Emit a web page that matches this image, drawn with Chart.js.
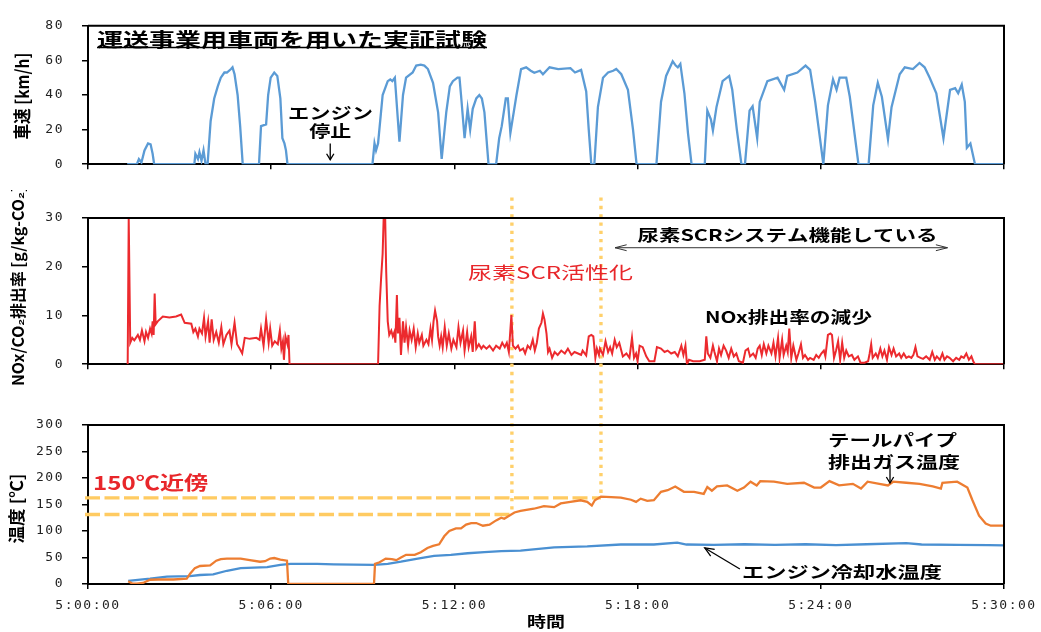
<!DOCTYPE html>
<html><head><meta charset="utf-8">
<script src="https://cdn.jsdelivr.net/npm/chart.js@4.4.1/dist/chart.umd.min.js"></script>
<style>
html,body{margin:0;padding:0;background:#fff;}
#wrap{position:relative;width:1041px;height:632px;overflow:hidden;background:#fff;}
canvas{position:absolute;left:0;}
</style></head><body>
<div id="wrap">
<canvas id="cA" width="1041" height="190" style="top:0px"></canvas>
<canvas id="cB" width="1041" height="200" style="top:190px"></canvas>
<canvas id="cC" width="1041" height="242" style="top:390px"></canvas>
</div>
<script>
// ---- tick labels ----
const xTickLabels = ['5:00:00','5:06:00','5:12:00','5:18:00','5:24:00','5:30:00'];
const xStep = 360, xMax = 1800;       // seconds from 5:00:00
const speedMax = 80, speedStep = 20;
const noxMax = 30, noxStep = 10;
const tempMax = 300, tempStep = 50;

// ---- vehicle speed [km/h] ----
const speedTime = [77,96,100,105,111,118,123,127,130,209,211,216,219,223,227,231,235,241,248,255,261,268,273,281,284,288,294,299,304,
 336,340,350,354,359,366,372,378,382,386,389,392,559,563,566,570,579,589,594,598,603,612,619,625,638,645,654,661,668,678,688,695,704,711,717,726,730,733,740,746,751,756,763,769,774,779,787,
 802,808,813,821,825,830,842,851,861,870,877,888,894,907,924,948,957,969,979,984,989,995,1002,1012,1022,1032,1038,1048,1061,1071,1078,
 1117,1126,1136,1149,1155,1159,1164,1172,1179,1186,1212,1217,1224,1228,1235,1247,1260,1266,1275,1284,1291,1300,1306,1315,1320,1335,1355,1368,1374,1394,1410,1419,1429,1445,
 1454,1464,1471,1477,1490,1497,1514,1534,1543,1552,1560,1572,1579,1595,1605,1621,1634,1644,1654,1667,1681,1694,1704,1710,1717,1723,1727,1734,1743,1800];
const speedVals = [0,0,3,1,8,12,11.5,6,0,0,6,3,7,2,8,0,0,25,38,45,50,53,53,55,56,52,40,22,0,
 0,22,23,40,50,53,51,38,15,12,8,0,0,12,8,12,40,48,49,48,50,13,40,50,53,57,57.5,57,55,47,30,3,30,45,48,50,50,40,15,32,20,32,38,40,38,30,0,
 0,15,22,38,38,18,40,55,56,54,52.8,54,52,56,55,55.5,53,54.5,42,20,0,0,33,50,53,54,55,52,43,20,0,
 0,36,51,59.5,57,56,58,41,18,0,0,31,26,19.5,33,48,51,43,20,0,0,31,33.5,15,36,48,50,43,51,53,57,54.5,36,0,
 34,49,43,50,50,39,0,0,34,47,39,14.5,33,52,56,55,58.5,56,50,41,15,43,44,41,46,36,9.5,12,0,0];

// ---- NOx/CO2 emission rate [g/kg-CO2] ----
const noxTime = [78,80,83,87,91,98,102,106,111,114,118,122,125,127,129,131,133,137,147,160,173,183,190,203,207,211,216,219,224,228,231,236,239,243,247,252,257,262,266,272,278,282,288,293,298,303,308,318,331,337,340,345,350,355,358,362,367,373,377,380,383,385,388,392,394,396,
 570,573,576,579,581,584,586,589,592,596,599,602,604,607,609,612,615,619,622,625,629,632,636,640,644,648,651,656,659,665,669,673,676,679,682,686,688,691,694,697,701,705,709,714,718,724,728,732,737,740,745,748,753,756,760,763,768,773,777,783,789,796,802,809,814,819,823,827,832,835,840,845,849,855,859,864,869,874,878,882,886,891,894,897,901,904,907,912,917,923,930,937,943,950,956,963,969,972,979,984,
 989,993,997,1000,1004,1006,1012,1017,1022,1026,1030,1035,1039,1044,1051,1058,1064,1069,1073,1077,1080,1084,1090,1097,1103,1113,1118,1126,1133,1139,1146,1153,1159,1166,1170,1174,1177,1181,1189,1202,1212,1215,1218,1223,1228,1231,1236,1240,1244,1249,1254,1259,1264,1269,1274,1279,1287,1292,1297,1301,1307,1312,1316,1320,1324,1328,1333,1337,1343,1347,1351,1356,1359,1364,1367,1372,1375,1378,
 1382,1386,1392,1396,1401,1405,1409,1415,1419,1426,1431,1436,1441,1446,1449,1454,1459,1462,1466,1470,1474,1478,1482,1486,1490,1495,1501,1506,1513,1518,1526,1533,1536,1539,1542,1548,1552,1557,1561,1565,1570,1574,1579,1583,1588,1594,1598,1603,1608,1613,1618,1622,1626,1630,1636,1641,1647,1654,1659,1664,1668,1674,1679,1683,1688,1693,1700,1706,1712,1716,1721,1726,1731,1736,1740,1743,1800];
const noxVals = [0,30,4.4,5.4,4.9,6,5,6.9,4.7,6.6,5.4,7.3,6.3,8.8,6,14.5,8.2,8.8,9.8,9.6,9.8,10.2,8.5,8.3,6.6,7.3,5.7,7.3,6.3,9.5,5.7,8.8,4.4,9.2,5,6.6,4.4,7.6,4.1,6,6.9,4.1,8.5,4.1,3.2,2.2,5.4,5.2,5.4,5,7.3,3.8,9.2,4.4,7.3,3.8,4.7,4.1,6.9,3.2,4.7,0.9,5.7,4.1,6,0,
 0,12,17.7,22.7,30,30,19,8.8,6,6.9,5.7,6.6,4.4,14.2,6.3,9.5,1.9,8.8,4.4,7.6,3.8,6.9,5,7.3,3.5,6.3,4.4,6,3.8,5,4.1,7.3,5,8.8,11,8.8,5.7,3.8,5.7,3.5,7.6,3.8,6.3,3.2,5,3.5,7.6,4.4,6.9,2.8,6.6,3.5,5.7,2.5,8.8,3.2,4.1,3.2,3.8,3.2,3.8,2.8,3.8,3.2,4.4,3.5,4.4,2.5,10.1,3.8,3.2,3.8,2.8,3.2,2.2,3.8,3.2,5,2.8,4.4,7.3,8.5,10.4,9.2,6.3,2.5,3.2,1.3,2.5,1.9,2.8,2.2,3.2,1.9,2.5,2.2,1.9,2.8,1.8,5.7,
 6,5.7,1.3,3.2,1.9,3.2,1.9,4.7,2.5,3.5,2.2,5,3.5,4.4,1.6,2.2,1.3,5.4,1.3,2.2,0.6,3.8,3.5,1.6,0.6,0.6,3.5,3.2,2.5,2.8,2.2,2.5,1.6,3.8,1.9,3.8,0,0.9,0.6,0.6,0.9,5.7,2.2,1.3,3.8,2.5,0.6,3.2,1.9,3.8,2.8,1.3,3.2,1.6,2.2,0.6,0.3,2.8,3.2,1.6,2.2,1.3,3.2,3.8,1.9,4.1,2.2,3.8,2.2,4.4,1.6,5.4,1.3,5,1.9,3.8,2.5,7.3,
 1.3,3.8,0.9,2.2,4.1,1.3,1.9,0.9,1.3,0.9,1.9,1.3,2.2,2.8,1.6,6,6.3,6,1.3,2.8,4.7,0.9,4.4,1.3,2.8,1.6,1.9,0.9,1.6,0.3,0.3,0.6,2.2,4.1,1.3,2.2,1.3,3.2,1.6,2.8,0.9,3.5,1.9,3.2,1.6,2.2,1.3,2.2,1.3,1.6,1.3,1.9,3.5,1.6,1.3,1.1,1.6,0.9,2.5,0.9,1.6,0.9,2.2,0.9,1.6,1.3,0.6,1.3,0.9,1.6,1.3,2.2,0.9,1.6,0.5,0,0];

// ---- tailpipe exhaust gas temperature [deg C] ----
const exhTime = [79,87,96,108,122,138,168,194,201,210,220,240,252,261,273,300,318,338,348,358,366,378,391,393.5,562,564,573,585,597,606,615,625,642,654,667,678,690,700,710,723,733,743,753,763,776,789,802,812,818,838,850,
 876,896,916,929,948,968,981,990,996,1008,1028,1047,1067,1077,1086,1099,1112,1126,1139,1154,1171,1191,1210,1217,1226,1236,1256,1276,1289,1302,1314,1321,1348,1374,1407,1427,1440,1457,1476,1503,1519,1532,1555,1572,1582,1608,1634,1660,1676,1679,1708,1728,1738,1751,1764,1774,1800];
const exhVals = [5,1,0.5,2,8,8.5,8.5,10,20,30,34,35,44,47,48,48,45,42,43,48,49,46,44,0,0,38,41,48,47,45,50,55,55,60,68,72,75,90,100,105,105,112,115,115,110,112,120,125,123,135,138,
 142,147,145,152,155,158,155,148,158,165,164,163,159,155,161,157,158,174,177,184,174,174,170,183,176,184,186,176,182,193,186,194,193,189,191,182,182,194,186,189,180,193,189,186,193,191,189,184,180,191,193,182,158,129,114,110,110];

// ---- engine coolant temperature [deg C] ----
const coolTime = [79,122,155,200,220,246,273,300,352,378,398,450,483,562,589,615,648,680,713,746,779,812,850,916,981,1047,1112,1158,1176,1230,1290,1350,1410,1470,1530,1608,1638,1710,1770,1800];
const coolVals = [6,10,14,15,17,18,25,30,32,36,38,38,37,36,38,42,48,53,55,58,60,62,63,69,71,74.5,74.5,78,74.5,74,75,74,75,73.5,75,77,74.5,74,73.5,73];

// ---- annotation anchors (data coordinates: seconds, value) ----
const activateT1 = 833, activateT2 = 1008;
const nearTempLow = 131, nearTempHigh = 162.5;

const pts = (t, v) => t.map((x, i) => ({x, y: v[i]}));
const JP = '"Noto Sans CJK JP","Noto Sans CJK SC",sans-serif';
const TICKFONT = {family: '"DejaVu Sans Mono", monospace', size: 13};

function txt(ctx, s, cx, cy, w, font, color, rot) {
  ctx.save();
  ctx.letterSpacing = '0px';
  ctx.font = font; ctx.fillStyle = color || '#000';
  ctx.textAlign = 'center'; ctx.textBaseline = 'middle';
  const m = ctx.measureText(s).width;
  ctx.translate(cx, cy);
  if (rot) ctx.rotate(-Math.PI / 2);
  ctx.scale(w / m, 1);
  ctx.fillText(s, 0, 0);
  ctx.restore();
}
function seg(ctx, x1, y1, x2, y2, w, color, dash) {
  ctx.save();
  ctx.strokeStyle = color; ctx.lineWidth = w;
  ctx.setLineDash(dash || []);
  ctx.beginPath(); ctx.moveTo(x1, y1); ctx.lineTo(x2, y2); ctx.stroke();
  ctx.restore();
}
function head(ctx, x1, y1, x2, y2, len, ang, w, color) {
  const a = Math.atan2(y2 - y1, x2 - x1);
  ctx.save(); ctx.strokeStyle = color; ctx.lineWidth = w; ctx.setLineDash([]);
  ctx.beginPath();
  ctx.moveTo(x2 - len * Math.cos(a - ang), y2 - len * Math.sin(a - ang));
  ctx.lineTo(x2, y2);
  ctx.lineTo(x2 - len * Math.cos(a + ang), y2 - len * Math.sin(a + ang));
  ctx.stroke(); ctx.restore();
}
function box(c) {
  const a = c.chartArea, ctx = c.ctx;
  ctx.save(); ctx.strokeStyle = '#000'; ctx.lineWidth = 2;
  ctx.beginPath(); ctx.moveTo(a.left, a.top); ctx.lineTo(a.right, a.top); ctx.lineTo(a.right, a.bottom); ctx.stroke();
  ctx.restore();
}
const DOT = '#FFD06A', DASH = '#FFCB62', RED = '#E8262A';

const drawers = {
  cA: {
    after(c) {
      const ctx = c.ctx, X = v => c.scales.x.getPixelForValue(v), Y = v => c.scales.y.getPixelForValue(v);
      box(c);
      txt(ctx, '運送事業用車両を用いた実証試験', X(401), Y(72), 390, 'bold 19px ' + JP, '#000');
      seg(ctx, X(17.7), Y(67.4), X(784), Y(67.4), 1.5, '#000');
      txt(ctx, 'エンジン', X(476.5), Y(29.5), 85, 'bold 16px ' + JP, '#000');
      txt(ctx, '停止', X(476), Y(19.3), 42, 'bold 16px ' + JP, '#000');
      seg(ctx, X(476), Y(12), X(476), Y(2.6), 1.3, '#000');
      head(ctx, X(476), Y(12), X(476), Y(2.6), 7, 0.55, 1.3, '#000');
      const a = c.chartArea;
      txt(ctx, '車速 [km/h]', 22.5, (a.top + a.bottom) / 2 + 1, 87, 'bold 18px ' + JP, '#000', true);
    }
  },
  cB: {
    before(c) {
      const ctx = c.ctx, X = v => c.scales.x.getPixelForValue(v), Y = v => c.scales.y.getPixelForValue(v);
      [activateT1, activateT2].forEach(t => seg(ctx, X(t), Y(34.2), X(t), c.height, 3.4, DOT, [3.3, 5]));
    },
    after(c) {
      const ctx = c.ctx, X = v => c.scales.x.getPixelForValue(v), Y = v => c.scales.y.getPixelForValue(v);
      box(c);
      txt(ctx, '尿素SCR活性化', X(909), Y(18.8), 165, '17px ' + JP, RED);
      txt(ctx, '尿素SCRシステム機能している', X(1374.5), Y(26.6), 300, 'bold 16px ' + JP, '#000');
      seg(ctx, X(1035.6), Y(23.9), X(1689), Y(23.9), 1, '#333');
      head(ctx, X(1689), Y(23.9), X(1035.6), Y(23.9), 12, 0.25, 1, '#333');
      head(ctx, X(1035.6), Y(23.9), X(1689), Y(23.9), 12, 0.25, 1, '#333');
      txt(ctx, 'NOx排出率の減少', X(1376.5), Y(9.75), 167, 'bold 16px ' + JP, '#000');
      const a = c.chartArea;
      txt(ctx, 'NOx/CO₂排出率 [g/kg-CO₂]', 18, (a.top + a.bottom) / 2 - 5, 200, 'bold 16px ' + JP, '#000', true);
    }
  },
  cC: {
    before(c) {
      const ctx = c.ctx, X = v => c.scales.x.getPixelForValue(v), Y = v => c.scales.y.getPixelForValue(v);
      seg(ctx, X(0) - 3, Y(nearTempHigh), X(activateT2), Y(nearTempHigh), 3.4, DASH, [15, 4.5]);
      seg(ctx, X(0) - 3, Y(nearTempLow), X(activateT1), Y(nearTempLow), 3.4, DASH, [15, 4.5]);
      seg(ctx, X(activateT1), 0, X(activateT1), Y(nearTempLow), 3.4, DOT, [3.3, 5]);
      seg(ctx, X(activateT2), 0, X(activateT2), Y(nearTempHigh), 3.4, DOT, [3.3, 5]);
    },
    after(c) {
      const ctx = c.ctx, X = v => c.scales.x.getPixelForValue(v), Y = v => c.scales.y.getPixelForValue(v);
      box(c);
      txt(ctx, '150℃近傍', X(123), Y(190.6), 115, 'bold 19px ' + JP, RED);
      txt(ctx, 'テールパイプ', X(1580.7), Y(271.7), 129, 'bold 16px ' + JP, '#000');
      txt(ctx, '排出ガス温度', X(1583.8), Y(230), 132, 'bold 16px ' + JP, '#000');
      seg(ctx, X(1576), Y(224.5), X(1576), Y(190.6), 1.3, '#000');
      head(ctx, X(1576), Y(224.5), X(1576), Y(190.6), 7, 0.55, 1.3, '#000');
      txt(ctx, 'エンジン冷却水温度', X(1481.6), Y(22.6), 200, 'bold 16px ' + JP, '#000');
      seg(ctx, X(1281), Y(28.3), X(1212), Y(68), 1.3, '#000');
      head(ctx, X(1281), Y(28.3), X(1212), Y(68), 10, 0.4, 1.3, '#000');
      const a = c.chartArea;
      txt(ctx, '時間', X(900), a.bottom + 37, 38, 'bold 15px ' + JP, '#000');
      txt(ctx, '温度 [℃]', 17, (a.top + a.bottom) / 2 + 4, 70, 'bold 17px ' + JP, '#000', true);
    }
  }
};

Chart.register({
  id: 'deco',
  beforeDraw(c) { c.ctx.letterSpacing = '1.5px'; },
  beforeDatasetsDraw(c) {
    const d = drawers[c.canvas.id];
    if (d && d.before) { c.ctx.save(); c.ctx.letterSpacing = '0px'; d.before(c); c.ctx.restore(); }
  },
  afterDraw(c) {
    const d = drawers[c.canvas.id];
    if (d && d.after) { c.ctx.save(); c.ctx.letterSpacing = '0px'; d.after(c); c.ctx.restore(); }
    c.ctx.letterSpacing = '0px';
  }
});

function xAxis(showLabels, h) {
  return {
    type: 'linear', min: 0, max: xMax,
    ticks: {stepSize: xStep, display: showLabels, autoSkip: false, maxRotation: 0, minRotation: 0, padding: 9,
      color: '#222', font: TICKFONT, callback: v => xTickLabels[Math.round(v / xStep)]},
    grid: {drawOnChartArea: false, drawTicks: true, tickLength: 5, color: '#000', lineWidth: 1.5},
    border: {display: true, color: '#000', width: 2},
    afterFit: s => { s.height = h; }
  };
}
function yAxis(max, step) {
  return {
    type: 'linear', min: 0, max: max,
    ticks: {stepSize: step, padding: 18, color: '#222', font: TICKFONT},
    grid: {drawOnChartArea: false, drawTicks: true, tickLength: 6, color: '#000', lineWidth: 1.5},
    border: {display: true, color: '#000', width: 2},
    afterFit: s => { s.width = 88; }
  };
}
function base(padTop, xh, showX, ymax, ystep) {
  return {
    responsive: false, animation: false, devicePixelRatio: 1,
    layout: {padding: {top: padTop, right: 37, left: 0, bottom: 0}},
    plugins: {legend: {display: false}, tooltip: {enabled: false}},
    elements: {point: {radius: 0}, line: {tension: 0, borderWidth: 2.3}},
    scales: {x: xAxis(showX, xh), y: yAxis(ymax, ystep)}
  };
}

new Chart(document.getElementById('cA'), {
  type: 'line',
  data: {datasets: [{label: '車速', data: pts(speedTime, speedVals), borderColor: '#5B9BD5', fill: false}]},
  options: base(12, 18, false, speedMax, speedStep)
});
new Chart(document.getElementById('cB'), {
  type: 'line',
  data: {datasets: [{label: 'NOx/CO2排出率', data: pts(noxTime, noxVals), borderColor: '#EC2A2E', fill: false, borderWidth: 2}]},
  options: base(28, 13, false, noxMax, noxStep)
});
new Chart(document.getElementById('cC'), {
  type: 'line',
  data: {datasets: [
    {label: 'テールパイプ排出ガス温度', data: pts(exhTime, exhVals), borderColor: '#ED7D31', fill: false},
    {label: 'エンジン冷却水温度', data: pts(coolTime, coolVals), borderColor: '#4A90D2', fill: false}
  ]},
  options: base(35, 48, true, tempMax, tempStep)
});
</script>
</body></html>
